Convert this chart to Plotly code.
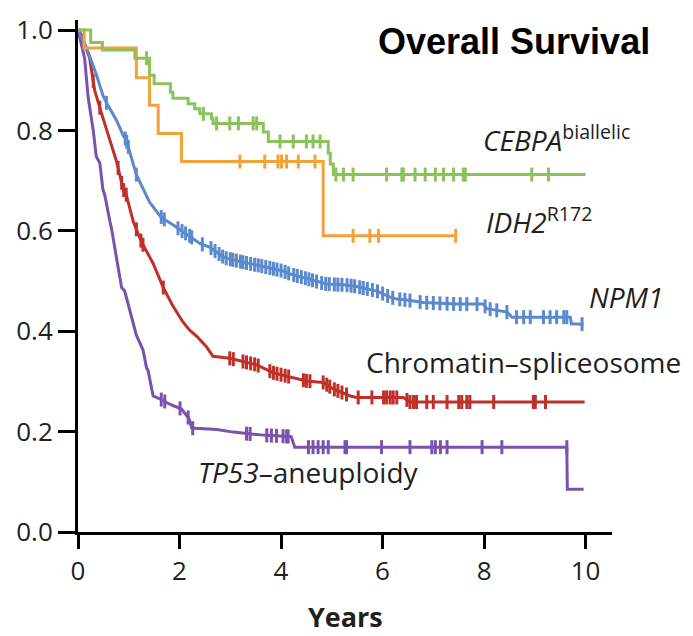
import numpy as np
import plotly.graph_objects as go

# ---------------- data ----------------
# CEBPA biallelic (green) – step curve
cebpa_t = [0, 0.25, 0.48, 1.12, 1.41, 1.50, 1.82, 1.87, 2.17, 2.30, 2.40, 2.63, 2.66, 3.65, 3.75, 4.93, 4.97, 5.03, 10.0]
cebpa_s = [1.0, 0.975, 0.96, 0.944, 0.91, 0.893, 0.876, 0.864, 0.853, 0.843, 0.833, 0.824, 0.814, 0.797, 0.778, 0.755, 0.733, 0.712, 0.712]
cebpa_cens = [1.35, 2.47, 2.73, 2.99, 3.16, 3.45, 3.52, 3.98, 4.24, 4.50, 4.63, 4.77, 5.08, 5.23, 5.42, 6.08, 6.38,
              6.41, 6.64, 6.84, 7.04, 7.20, 7.40, 7.59, 7.63, 8.94, 9.27]

# IDH2 R172 (orange) – step curve
idh2_t = [0, 0.12, 1.15, 1.41, 1.58, 2.04, 4.83, 7.47]
idh2_s = [1.0, 0.964, 0.905, 0.85, 0.794, 0.738, 0.59, 0.59]
idh2_cens = [3.19, 3.68, 3.94, 4.01, 4.11, 4.34, 4.67, 5.42, 5.75, 5.92, 7.44]

# NPM1 (blue) – many small steps, traced vertices
npm1_t = [0, 0.07, 0.17, 0.36, 0.49, 0.56, 0.76, 0.89, 0.95, 1.15, 1.35, 1.41, 1.61, 1.68, 1.87, 2.07, 2.20, 2.40,
          2.60, 2.86, 2.93, 3.45, 3.52, 4.04, 4.18, 4.50, 4.83, 4.90, 5.29, 5.49, 5.89, 6.15, 6.28, 6.48, 6.80,
          7.46, 7.99, 8.05, 8.12, 8.45, 8.55, 9.70, 9.72, 9.96]
npm1_s = [1.0, 0.985, 0.964, 0.912, 0.87, 0.855, 0.82, 0.79, 0.781, 0.712, 0.67, 0.657, 0.630, 0.624, 0.612, 0.598,
          0.590, 0.575, 0.567, 0.548, 0.545, 0.533, 0.532, 0.520, 0.514, 0.505, 0.495, 0.494, 0.492, 0.489, 0.480,
          0.468, 0.464, 0.462, 0.457, 0.454, 0.454, 0.445, 0.444, 0.438, 0.428, 0.428, 0.415, 0.414]
npm1_cens = [0.56, 0.93, 0.96, 0.99, 1.15, 1.64, 1.70, 1.97, 2.05, 2.12, 2.20, 2.24, 2.45, 2.62, 2.70, 2.78, 2.85,
             2.92, 3.00, 3.05, 3.12, 3.20, 3.25, 3.32, 3.40, 3.48, 3.55, 3.62, 3.70, 3.78, 3.85, 3.92, 4.00, 4.08,
             4.15, 4.25, 4.32, 4.40, 4.48, 4.55, 4.62, 4.70, 4.80, 4.88, 4.95, 5.05, 5.12, 5.20, 5.30, 5.38, 5.45,
             5.55, 5.62, 5.70, 5.80, 5.90, 6.00, 6.10, 6.20, 6.34, 6.44, 6.54, 6.74, 6.87, 7.00, 7.13, 7.27, 7.40,
             7.53, 7.66, 7.86, 8.02, 8.12, 8.25, 8.45, 8.64, 8.78, 8.91, 9.17, 9.30, 9.43, 9.57, 9.63, 9.93]

# Chromatin–spliceosome (red)
chrom_t = [0, 0.07, 0.23, 0.33, 0.46, 0.63, 0.76, 0.89, 0.95, 1.09, 1.25, 1.48, 1.68, 1.87, 2.07, 2.20, 2.34, 2.53,
           2.66, 2.99, 3.52, 3.85, 4.18, 4.50, 4.83, 5.03, 5.36, 5.49, 6.41, 6.54, 9.98]
chrom_s = [1.0, 0.99, 0.944, 0.879, 0.835, 0.781, 0.738, 0.683, 0.672, 0.618, 0.578, 0.535, 0.487, 0.450, 0.418,
           0.402, 0.390, 0.369, 0.350, 0.346, 0.333, 0.317, 0.309, 0.301, 0.298, 0.285, 0.271, 0.268, 0.268, 0.259,
           0.259]
chrom_cens = [0.30, 0.43, 0.79, 0.86, 0.90, 0.95, 1.15, 1.24, 1.28, 1.68, 2.99, 3.06, 3.25, 3.32, 3.40, 3.48, 3.55,
              3.78, 3.85, 3.92, 4.00, 4.08, 4.15, 4.44, 4.50, 4.57, 4.83, 4.90, 4.96, 5.05, 5.12, 5.20, 5.29, 5.52,
              5.79, 6.02, 6.08, 6.15, 6.21, 6.28, 6.48, 6.54, 6.61, 6.67, 6.87, 7.00, 7.27, 7.50, 7.56, 7.66, 7.72,
              8.19, 8.97, 9.01, 9.21]

# TP53–aneuploidy (purple)
tp53_t = [0, 0.07, 0.13, 0.20, 0.23, 0.30, 0.36, 0.43, 0.49, 0.53, 0.63, 0.66, 0.76, 0.86, 0.92, 1.02, 1.05, 1.15,
          1.28, 1.35, 1.38, 1.48, 1.68, 1.74, 1.87, 2.04, 2.17, 2.20, 2.24, 2.73, 3.06, 3.32, 3.65, 4.20, 4.27,
          9.63, 9.64, 9.96]
tp53_s = [1.0, 0.97, 0.944, 0.866, 0.846, 0.80, 0.748, 0.735, 0.683, 0.670, 0.618, 0.605, 0.545, 0.487, 0.480,
          0.441, 0.435, 0.392, 0.363, 0.327, 0.322, 0.271, 0.262, 0.258, 0.252, 0.245, 0.228, 0.222, 0.207, 0.204,
          0.199, 0.196, 0.193, 0.190, 0.169, 0.169, 0.085, 0.085]
tp53_cens = [1.64, 1.71, 2.01, 2.17, 2.26, 3.32, 3.39, 3.72, 3.81, 3.91, 4.04, 4.11, 4.14, 4.54, 4.63, 4.73, 4.83,
             4.93, 5.26, 5.29, 5.98, 6.54, 6.97, 7.04, 7.14, 7.27, 7.96, 8.35, 9.63]

x_ticks = [0, 2, 4, 6, 8, 10]
y_ticks = [0.0, 0.2, 0.4, 0.6, 0.8, 1.0]
y_ticktext = ["0.0", "0.2", "0.4", "0.6", "0.8", "1.0"]

# ---------------- styles ----------------
GREEN = "#8cc25a"
ORANGE = "#f2a23a"
BLUE = "#5a8acd"
RED = "#c0302a"
PURPLE = "#7a52ae"
TXT = "#231f20"
FONT = "Open Sans"


def step_value(t, s, c):
    i = int(np.searchsorted(np.asarray(t), c, side="right")) - 1
    return s[max(i, 0)]


fig = go.Figure()

curves = [
    (tp53_t, tp53_s, tp53_cens, PURPLE, "linear"),
    (chrom_t, chrom_s, chrom_cens, RED, "linear"),
    (npm1_t, npm1_s, npm1_cens, BLUE, "linear"),
    (idh2_t, idh2_s, idh2_cens, ORANGE, "hv"),
    (cebpa_t, cebpa_s, cebpa_cens, GREEN, "hv"),
]

for t, s, cens, col, shape in curves:
    fig.add_trace(go.Scatter(x=t, y=s, mode="lines", line=dict(color=col, width=3, shape=shape),
                             showlegend=False, hoverinfo="skip"))
    if shape == "hv":
        cy = [step_value(t, s, c) for c in cens]
    else:
        cy = list(np.interp(cens, t, s))
    fig.add_trace(go.Scatter(x=cens, y=cy, mode="markers",
                             marker=dict(symbol="line-ns", size=10, line=dict(color=col, width=3)),
                             showlegend=False, hoverinfo="skip"))

labels = [
    ("<i>CEBPA</i><sup>biallelic</sup>", 7.94, 0.784),
    ("<i>IDH2</i><sup>R172</sup>", 8.0, 0.621),
    ("<i>NPM1</i>", 10.03, 0.468),
    ("Chromatin–spliceosome", 5.64, 0.339),
    ("<i>TP53</i>–aneuploidy", 2.32, 0.120),
]
for txt, x, y in labels:
    fig.add_annotation(x=x, y=y, xref="x", yref="y", text=txt, showarrow=False,
                       xanchor="left", yanchor="middle",
                       font=dict(family=FONT, size=28, color=TXT))

fig.add_annotation(x=8.58, y=0.978, xref="x", yref="y", text="<b>Overall Survival</b>", showarrow=False,
                   xanchor="center", yanchor="middle",
                   font=dict(family="Liberation Sans, Arial", size=36, color="#000000"))

fig.add_annotation(x=5.26, y=-0.1657, xref="x", yref="paper", text="<b>Years</b>", showarrow=False,
                   xanchor="center", yanchor="middle",
                   font=dict(family=FONT, size=27, color=TXT))

fig.update_layout(
    width=693, height=636,
    margin=dict(l=78, r=81, t=11, b=104),
    paper_bgcolor="white", plot_bgcolor="white",
    xaxis=dict(range=[0, 10.52], tickvals=x_ticks, showgrid=False, zeroline=False,
               showline=True, linecolor="black", linewidth=3,
               ticks="outside", ticklen=14, tickwidth=3, tickcolor="black",
               tickfont=dict(family=FONT, size=26, color=TXT)),
    yaxis=dict(range=[0, 1.02], tickvals=y_ticks, ticktext=y_ticktext, showgrid=False, zeroline=False,
               showline=True, linecolor="black", linewidth=3,
               ticks="outside", ticklen=17, tickwidth=3, tickcolor="black",
               tickfont=dict(family=FONT, size=26, color=TXT)),
)

fig.write_html("out.html")
